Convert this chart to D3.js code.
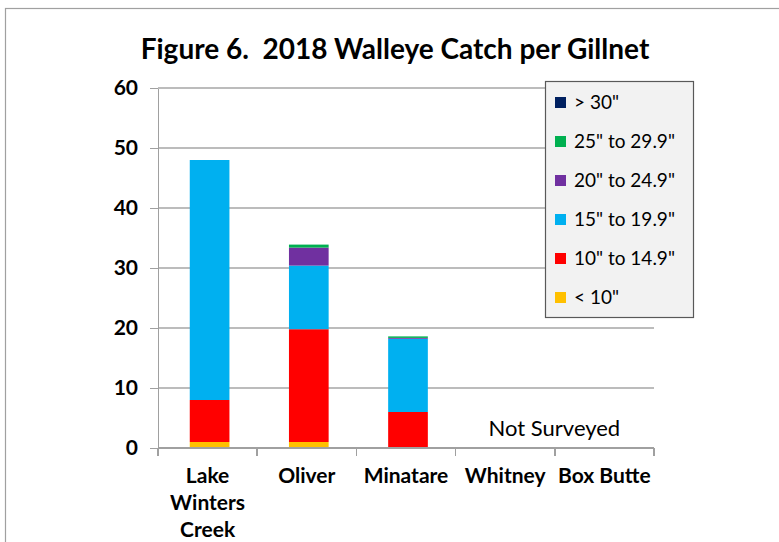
<!DOCTYPE html>
<meta charset="utf-8">
<style>
body { margin: 0; background: #fff; font-family: Lato, "Open Sans", sans-serif; }
.grid line { stroke: #a6a6a6; stroke-width: 1.5; }
.axis path, .axis line { stroke: #a0a0a0; stroke-width: 1.5; shape-rendering: crispEdges; }
.axis text { font-weight: bold; font-size: 21px; fill: #000; font-family: Lato, sans-serif; }
</style>
<body>
<svg id="chart" width="779" height="542"></svg>
<script src="https://d3js.org/d3.v7.min.js"></script>
<script>
// lakes and size classes
var lakes = ["Lake Winters Creek", "Oliver", "Minatare", "Whitney", "Box Butte"];
var lakeLines = [["Lake", "Winters", "Creek"], ["Oliver"], ["Minatare"], ["Whitney"], ["Box Butte"]];
var classes = ["< 10\"", "10\" to 14.9\"", "15\" to 19.9\"", "20\" to 24.9\"", "25\" to 29.9\"", "> 30\""];
var colors = ["#ffc000", "#ff0000", "#00b0f0", "#7030a0", "#00b050", "#002060"];

// catch per gillnet by size class (one array per lake, same order as classes)
var lakeWintersCreek = [1, 7, 40, 0, 0, 0];
var oliver = [1, 18.8, 10.6, 3, 0.5, 0];
var minatare = [0, 6, 12.2, 0.15, 0.25, 0];
var whitney = [0, 0, 0, 0, 0, 0];
var boxButte = [0, 0, 0, 0, 0, 0];
var yTicks = [0, 10, 20, 30, 40, 50, 60];

var values = [lakeWintersCreek, oliver, minatare, whitney, boxButte];
var table = lakes.map(function(l, i) {
  var row = { lake: l };
  classes.forEach(function(c, j) { row[c] = values[i][j]; });
  return row;
});

var svg = d3.select("#chart");
var margin = { left: 158, right: 125, top: 88, bottom: 94 };
var width = 779 - margin.left - margin.right,
    height = 542 - margin.top - margin.bottom;

// outer chart frame
svg.append("rect").attr("x", 5.5).attr("y", 8.5).attr("width", 900).attr("height", 700)
  .attr("fill", "none").attr("stroke", "#a0a0a0").attr("stroke-width", 1.2);

svg.append("text").attr("x", 395).attr("y", 59).attr("text-anchor", "middle")
  .attr("xml:space", "preserve").style("white-space", "pre")
  .style("font-weight", "bold").style("font-size", "28px")
  .text("Figure 6.  2018 Walleye Catch per Gillnet");

var g = svg.append("g").attr("transform", "translate(" + margin.left + "," + margin.top + ")");

var x = d3.scaleBand().domain(lakes).range([0, width]).paddingInner(0.6).paddingOuter(0.3);
var xTick = d3.scaleBand().domain(lakes).range([0, width]);
var y = d3.scaleLinear().domain([0, 60]).range([height, 0]);

g.append("g").attr("class", "grid")
  .selectAll("line").data(yTicks.slice(1)).enter().append("line")
  .attr("x1", 0).attr("x2", width).attr("y1", d => y(d)).attr("y2", d => y(d));

var stack = d3.stack().keys(classes)(table);
g.selectAll(".layer").data(stack).enter().append("g")
  .attr("fill", (d, i) => colors[i])
  .selectAll("rect").data(d => d).enter().append("rect")
  .attr("x", d => x(d.data.lake) + 2)
  .attr("width", x.bandwidth())
  .attr("y", d => y(d[1]))
  .attr("height", d => y(d[0]) - y(d[1]));

// y axis
var yAxis = g.append("g").attr("class", "axis")
  .call(d3.axisLeft(y).tickValues(yTicks).tickSize(8).tickSizeOuter(0).tickPadding(12));

// x axis with ticks at band edges
var xAxis = g.append("g").attr("class", "axis").attr("transform", "translate(0," + height + ")");
xAxis.append("line").attr("x1", 0).attr("x2", width);
xAxis.selectAll(".tk").data(lakes.concat(["end"])).enter().append("line")
  .attr("x1", (d, i) => i < lakes.length ? xTick(d) : width)
  .attr("x2", (d, i) => i < lakes.length ? xTick(d) : width)
  .attr("y1", 0).attr("y2", 8);
xAxis.selectAll(".lbl").data(lakes).enter().append("text")
  .attr("x", d => xTick(d) + xTick.bandwidth() / 2)
  .attr("y", 35).attr("text-anchor", "middle")
  .each(function(d, i) {
    var t = d3.select(this);
    lakeLines[i].forEach(function(s, k) {
      t.append("tspan").attr("x", xTick(d) + xTick.bandwidth() / 2).attr("dy", k ? 27 : 0).text(s);
    });
  });

g.append("text").attr("x", xTick("Whitney") + 33).attr("y", y(2.0))
  .style("font-size", "22px").text("Not Surveyed");

// legend
var leg = svg.append("g").attr("transform", "translate(545,81)");
leg.append("rect").attr("x", 0.5).attr("y", 0.5).attr("width", 148).attr("height", 236)
  .attr("fill", "#f2f2f2").attr("stroke", "#595959").attr("stroke-width", 1.2);
var items = classes.slice().reverse();
var itemColors = colors.slice().reverse();
items.forEach(function(c, i) {
  var yy = 21 + i * 39;
  leg.append("rect").attr("x", 10).attr("y", yy - 5).attr("width", 11).attr("height", 11).attr("fill", itemColors[i]);
  leg.append("text").attr("x", 29).attr("y", yy + 7).style("font-size", "19px").text(c);
});
</script>
</body>
